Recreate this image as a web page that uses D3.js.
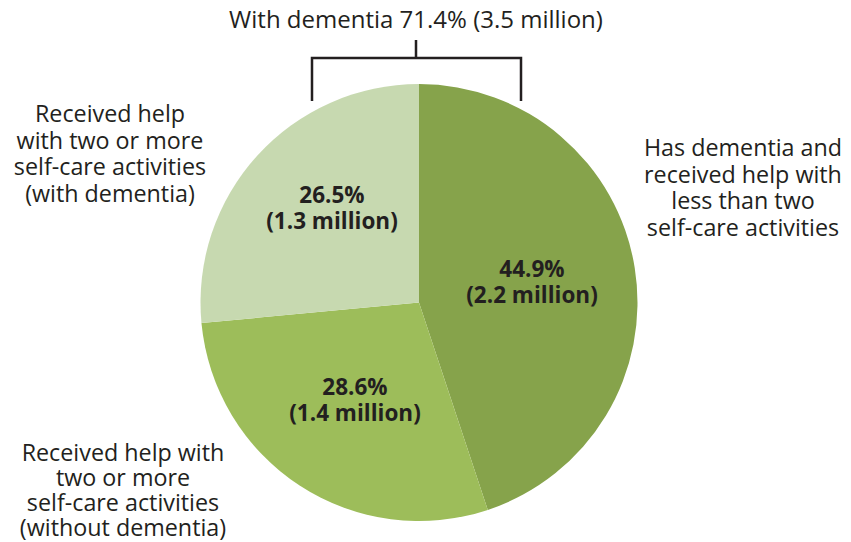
<!DOCTYPE html>
<html><head><meta charset="utf-8">
<script src="https://cdn.jsdelivr.net/npm/d3@7"></script>
<style>body{margin:0;background:#fff}svg{display:block}</style>
</head><body>
<script>
const categories = ["Has dementia, help with <2 activities","Help with 2+ activities (without dementia)","Help with 2+ activities (with dementia)"];
const percents = [44.9, 28.6, 26.5];
const millions = ["2.2","1.4","1.3"];
const colors = ["#86a34b","#9dbd5a","#c7d9b0"];
const outerLabels = [
  ["Has dementia and","received help with","less than two","self-care activities"],
  ["Received help with","two or more","self-care activities","(without dementia)"],
  ["Received help","with two or more","self-care activities","(with dementia)"]
];
const title = "With dementia 71.4% (3.5 million)";

const W=851,H=542;
const svg=d3.select("body").append("svg").attr("width",W).attr("height",H);
const cx=419, cy=302.5, R=218.5;
const pie=d3.pie().sort(null).value(d=>d);
const arcs=pie(percents);
const arc=d3.arc().innerRadius(0).outerRadius(R);
const g=svg.append("g").attr("transform",`translate(${cx},${cy})`);
g.selectAll("path").data(arcs).join("path").attr("d",arc).attr("fill",(d,i)=>colors[i]);

const font="'Open Sans', sans-serif";
const txt="#231f20";
// slice labels
const inner=[[113,-26],[-64,92],[-87,-100]];
arcs.forEach((a,i)=>{
  const t=g.append("text").attr("text-anchor","middle").attr("font-family",font).attr("font-weight","700")
   .attr("font-size",22.5).attr("fill",txt);
  t.append("tspan").attr("x",inner[i][0]).attr("y",inner[i][1]).text(percents[i].toFixed(1)+"%");
  t.append("tspan").attr("x",inner[i][0]).attr("y",inner[i][1]+26).text(`(${millions[i]} million)`);
});
// outer labels
const outerPos=[[743,156],[123,461],[110,122]];
const outerStep=[26.5,25,26.5];
outerLabels.forEach((lines,i)=>{
  const t=svg.append("text").attr("text-anchor","middle").attr("font-family",font)
    .attr("font-size",23.3).attr("fill",txt);
  lines.forEach((l,j)=>t.append("tspan").attr("x",outerPos[i][0]).attr("y",outerPos[i][1]+j*outerStep[i]).text(l));
});
// title & bracket
svg.append("text").attr("x",416).attr("y",28).attr("text-anchor","middle").attr("font-family",font)
  .attr("font-size",24).attr("fill",txt).text(title);
svg.append("path").attr("d","M312,101V58H521V101M416,58V40").attr("fill","none").attr("stroke","#231f20").attr("stroke-width",2.5);
</script>
</body></html>
